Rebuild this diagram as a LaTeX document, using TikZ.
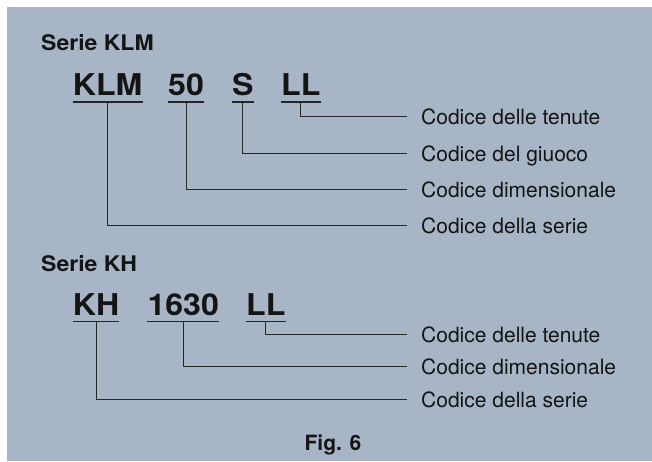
\documentclass[tikz,border=0pt]{standalone}
\usepackage{fontspec}
\setmainfont{TeX Gyre Heros}
\newfontfamily\codefont{TeX Gyre Heros}[FakeStretch=1.07]
\usepackage{tikz}

\definecolor{panelblue}{RGB}{167,181,198}
\definecolor{inkgray}{RGB}{38,38,40}

\begin{document}
\begin{tikzpicture}[x=1pt, y=-1pt,
  every node/.style={text=black!92},
  serietitle/.style={font=\codefont\bfseries\fontsize{21.5}{24}\selectfont,
                     anchor=base west, inner sep=0pt},
  codebox/.style={font=\codefont\bfseries\fontsize{30}{34}\selectfont,
                  anchor=base west, inner sep=0pt, text depth=6pt},
  lab/.style={font=\fontsize{21}{24}\selectfont, anchor=west,
              inner xsep=14pt, inner ysep=0pt, text height=16pt, text depth=0pt},
  uline/.style={draw=inkgray, line width=1.4pt},
  conn/.style={draw=inkgray, line width=0.9pt},
]

% Panel
\useasboundingbox (0,0) rectangle (652,461);
\fill[panelblue] (7,7) rectangle (652,461);

% Serie KLM
\node[serietitle] (klmtitle) at (41,50) {Serie KLM};

\node[codebox] (klm)   at (72.7,95.7) {KLM};
\node[codebox] (klm50) at (168,95.7)  {50};
\node[codebox] (klms)  at (232,95.7)  {S};
\node[codebox] (klmll) at (281,95.7)  {LL};

\node[lab] (klmseal) at (407,116)   {Codice delle tenute};
\node[lab] (klmplay) at (407,153)   {Codice del giuoco};
\node[lab] (klmdim)  at (407,189.5) {Codice dimensionale};
\node[lab] (klmser)  at (407,225.5) {Codice della serie};

% Underlines
\foreach \n in {klm,klm50,klms,klmll}
  \draw[uline] (\n.south west) -- (\n.south east);

% Connectors
\draw[conn] (klmll.south) |- (klmseal.west);
\draw[conn] (klms.south)  |- (klmplay.west);
\draw[conn] (klm50.south) |- (klmdim.west);
\draw[conn] (klm.south)   |- (klmser.west);

% Serie KH
\node[serietitle] (khtitle) at (41,271.7) {Serie KH};

\node[codebox] (kh)     at (72.7,315) {KH};
\node[codebox] (kh1630) at (147.3,315) {1630};
\node[codebox] (khll)   at (246,315)   {LL};

\node[lab] (khseal) at (407,334.5) {Codice delle tenute};
\node[lab] (khdim)  at (407,366)   {Codice dimensionale};
\node[lab] (khser)  at (407,399.5) {Codice della serie};

\foreach \n in {kh,kh1630,khll}
  \draw[uline] (\n.south west) -- (\n.south east);

\draw[conn] (khll.south)   |- (khseal.west);
\draw[conn] (kh1630.south) |- (khdim.west);
\draw[conn] (kh.south)     |- (khser.west);

% Caption
\node[font=\bfseries\fontsize{21}{24}\selectfont, anchor=base] (fig) at (333,450) {Fig. 6};

\end{tikzpicture}
\end{document}
